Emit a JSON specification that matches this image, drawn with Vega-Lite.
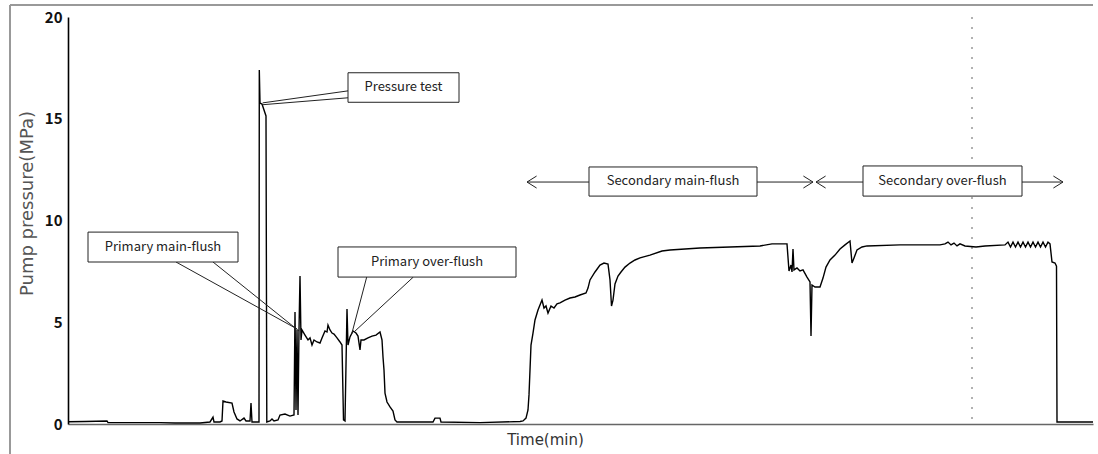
{
  "$schema": "https://vega.github.io/schema/vega-lite/v6.json",
  "width": 1025,
  "height": 407,
  "autosize": {"type": "none"},
  "padding": {"left": 68, "top": 17, "right": 5, "bottom": 30},
  "background": "white",
  "config": {
    "view": {"stroke": null},
    "font": "Noto Sans CJK KR"
  },
  "datasets": {
    "curve": [
      {"t":0,"p":0.11},{"t":17,"p":0.12},{"t":39,"p":0.15},{"t":40,"p":0.07},{"t":92,"p":0.07},{"t":107,"p":0.05},{"t":132,"p":0.05},{"t":142,"p":0.10},{"t":145,"p":0.34},{"t":146,"p":0.10},{"t":152,"p":0.10},{"t":154,"p":0.15},{"t":155,"p":1.13},{"t":158,"p":1.08},{"t":164,"p":1.03},{"t":166,"p":0.59},{"t":169,"p":0.25},{"t":172,"p":0.15},{"t":176,"p":0.29},{"t":178,"p":0.15},{"t":182,"p":0.15},{"t":183,"p":1.03},{"t":184,"p":0.10},{"t":189,"p":0.10},
      {"t":191,"p":0.10},{"t":191.3,"p":17.40},{"t":192,"p":15.77},{"t":194,"p":15.72},{"t":198,"p":15.14},{"t":198.8,"p":0.10},
      {"t":202,"p":0.15},{"t":204,"p":0.25},{"t":206,"p":0.15},{"t":210,"p":0.20},{"t":212,"p":0.44},{"t":217,"p":0.49},{"t":222,"p":0.39},{"t":226,"p":0.44},{"t":227,"p":5.50},{"t":228,"p":0.69},{"t":229,"p":4.62},{"t":230,"p":0.44},{"t":231,"p":4.62},{"t":232,"p":7.27},{"t":233,"p":4.13},{"t":234,"p":4.62},{"t":237,"p":4.37},{"t":240,"p":4.13},{"t":242,"p":4.23},{"t":244,"p":3.88},{"t":246,"p":4.13},{"t":249,"p":4.03},{"t":252,"p":3.98},{"t":254,"p":4.23},{"t":257,"p":4.57},{"t":259,"p":4.52},{"t":260,"p":4.86},{"t":262,"p":4.62},{"t":264,"p":4.47},{"t":266,"p":4.42},{"t":269,"p":4.23},{"t":272,"p":4.03},{"t":274,"p":3.88},{"t":275.5,"p":0.20},{"t":277,"p":0.15},{"t":279,"p":5.65},{"t":280,"p":3.88},{"t":282,"p":4.28},{"t":285,"p":4.57},{"t":288,"p":4.47},{"t":290,"p":4.32},{"t":292,"p":3.64},{"t":293,"p":4.13},{"t":296,"p":4.13},{"t":300,"p":4.23},{"t":304,"p":4.32},{"t":308,"p":4.37},{"t":312,"p":4.52},{"t":314,"p":4.13},{"t":315,"p":3.29},{"t":316,"p":2.65},{"t":317,"p":1.52},{"t":319,"p":1.08},{"t":322,"p":0.84},{"t":325,"p":0.64},{"t":327,"p":0.20},{"t":329,"p":0.10},
      {"t":352,"p":0.10},{"t":365,"p":0.10},{"t":367,"p":0.29},{"t":372,"p":0.29},{"t":373,"p":0.10},{"t":412,"p":0.07},{"t":452,"p":0.12},
      {"t":455,"p":0.15},{"t":458,"p":0.29},{"t":460,"p":0.69},{"t":461,"p":1.43},{"t":462,"p":2.65},{"t":463,"p":3.88},{"t":465,"p":4.47},{"t":467,"p":5.11},{"t":470,"p":5.60},{"t":474,"p":6.09},{"t":476,"p":5.70},{"t":478,"p":5.80},{"t":480,"p":5.45},{"t":483,"p":5.80},{"t":486,"p":5.70},{"t":489,"p":5.90},{"t":492,"p":5.95},{"t":497,"p":6.09},{"t":502,"p":6.19},{"t":507,"p":6.24},{"t":512,"p":6.34},{"t":518,"p":6.44},{"t":520,"p":6.68},{"t":522,"p":7.08},{"t":527,"p":7.47},{"t":532,"p":7.81},{"t":536,"p":7.91},{"t":540,"p":7.86},{"t":542,"p":7.08},{"t":543.5,"p":5.80},{"t":545,"p":6.09},{"t":547,"p":6.88},{"t":550,"p":7.27},{"t":553,"p":7.47},{"t":557,"p":7.71},{"t":562,"p":7.91},{"t":567,"p":8.06},{"t":572,"p":8.16},{"t":582,"p":8.30},{"t":594,"p":8.50},{"t":602,"p":8.55},{"t":617,"p":8.60},{"t":632,"p":8.65},{"t":662,"p":8.70},{"t":692,"p":8.75},{"t":704,"p":8.85},{"t":719,"p":8.85},
      {"t":721,"p":7.52},{"t":723,"p":7.81},{"t":724,"p":7.47},{"t":725,"p":8.60},{"t":726,"p":7.57},{"t":729,"p":7.67},{"t":732,"p":7.52},{"t":735,"p":7.57},{"t":739,"p":7.22},{"t":742,"p":6.98},{"t":743,"p":4.32},{"t":744,"p":6.83},{"t":747,"p":6.73},{"t":752,"p":6.73},{"t":755,"p":7.17},{"t":758,"p":7.71},{"t":762,"p":8.06},{"t":767,"p":8.30},{"t":772,"p":8.60},{"t":777,"p":8.80},{"t":782,"p":8.99},{"t":784,"p":7.91},{"t":786,"p":8.16},{"t":789,"p":8.55},{"t":794,"p":8.70},{"t":799,"p":8.75},{"t":832,"p":8.80},{"t":872,"p":8.80},{"t":877,"p":8.85},{"t":880,"p":8.94},{"t":883,"p":8.80},{"t":886,"p":8.89},{"t":889,"p":8.75},{"t":892,"p":8.85},{"t":897,"p":8.75},{"t":908,"p":8.70},{"t":917,"p":8.75},{"t":937,"p":8.80},
      {"t":940,"p":8.94},{"t":942.5,"p":8.70},{"t":945,"p":8.94},{"t":947.5,"p":8.70},{"t":950,"p":8.94},{"t":952.5,"p":8.70},{"t":955,"p":8.94},{"t":957.5,"p":8.70},{"t":960,"p":8.94},{"t":962.5,"p":8.70},{"t":965,"p":8.94},{"t":967.5,"p":8.70},{"t":970,"p":8.94},{"t":972.5,"p":8.70},{"t":975,"p":8.94},{"t":977.5,"p":8.70},{"t":980,"p":8.94},{"t":982,"p":8.85},{"t":984,"p":7.96},{"t":987,"p":7.91},{"t":988.5,"p":7.76},{"t":989,"p":0.10},{"t":992,"p":0.10},{"t":1025,"p":0.10}
    ],
    "boxes": [
      {"label":"Pressure test","x1":280,"x2":391,"y1":17.26,"y2":15.81,"xc":335.5,"yc":16.54},
      {"label":"Primary main-flush","x1":20,"x2":170,"y1":9.43,"y2":7.96,"xc":95,"yc":8.70},
      {"label":"Primary over-flush","x1":270,"x2":448,"y1":8.70,"y2":7.22,"xc":359,"yc":7.96},
      {"label":"Secondary main-flush","x1":521,"x2":689,"y1":12.63,"y2":11.20,"xc":605,"yc":11.92},
      {"label":"Secondary over-flush","x1":795,"x2":954,"y1":12.68,"y2":11.20,"xc":874.5,"yc":11.92}
    ],
    "leaders": [
      {"x1":280,"y1":16.37,"x2":194.7,"y2":15.78},
      {"x1":280,"y1":16.03,"x2":194.7,"y2":15.69},
      {"x1":108,"y1":7.96,"x2":229,"y2":4.67},
      {"x1":145,"y1":7.96,"x2":231,"y2":4.57},
      {"x1":298.7,"y1":7.22,"x2":283.7,"y2":4.42},
      {"x1":345.3,"y1":7.22,"x2":286,"y2":4.52},
      {"x1":459,"y1":11.89,"x2":521,"y2":11.89},
      {"x1":689,"y1":11.89,"x2":745,"y2":11.89},
      {"x1":748,"y1":11.89,"x2":795,"y2":11.89},
      {"x1":954,"y1":11.89,"x2":995,"y2":11.89}
    ],
    "heads": [
      {"x":459,"y":11.89,"dir":"left"},
      {"x":745,"y":11.89,"dir":"right"},
      {"x":748,"y":11.89,"dir":"left"},
      {"x":995,"y":11.89,"dir":"right"}
    ],
    "frame": [
      {"x1":-58,"x2":-58,"y1":20.59,"y2":-1.6},
      {"x1":-58,"x2":1025,"y1":20.59,"y2":20.59}
    ],
    "marker": [
      {"x1":904,"x2":904,"y1":20,"y2":0}
    ]
  },
  "layer": [
    {
      "data": {"name": "frame"},
      "mark": {"type": "rule", "color": "#999", "strokeWidth": 2, "clip": false},
      "encoding": {
        "x": {"field": "x1", "type": "quantitative", "scale": {"domain": [0, 1025], "nice": false, "zero": false}},
        "x2": {"field": "x2"},
        "y": {"field": "y1", "type": "quantitative", "scale": {"domain": [0, 20], "nice": false}},
        "y2": {"field": "y2"}
      }
    },
    {
      "data": {"name": "marker"},
      "mark": {"type": "rule", "color": "#888", "strokeWidth": 1.3, "strokeDash": [2, 8]},
      "encoding": {
        "x": {"field": "x1", "type": "quantitative"},
        "x2": {"field": "x2"},
        "y": {"field": "y1", "type": "quantitative"},
        "y2": {"field": "y2"}
      }
    },
    {
      "mark": {"type": "rule", "color": "#222", "strokeWidth": 1.5},
      "encoding": {"y": {"datum": 20, "type": "quantitative"}}
    },
    {
      "data": {"name": "curve"},
      "mark": {"type": "line", "color": "#000", "strokeWidth": 1.4, "interpolate": "linear"},
      "encoding": {
        "x": {"field": "t", "type": "quantitative",
          "axis": {"labels": false, "ticks": false, "grid": false, "domainColor": "#666", "domainWidth": 1.5,
            "title": "Time(min)", "titleFont": "DejaVu Sans", "titleFontSize": 15, "titleFontWeight": "normal", "titleColor": "#333",
            "titleX": 477, "titleY": 15, "titleBaseline": "middle", "titleAlign": "center"}},
        "y": {"field": "p", "type": "quantitative",
          "axis": {"values": [0, 5, 10, 15, 20], "ticks": false, "tickSize": 0, "grid": false, "domainColor": "#000", "domainWidth": 1.6,
            "labelFontSize": 15, "labelFontWeight": "bold", "labelColor": "#111", "labelPadding": 6,
            "title": "Pump pressure(MPa)", "titleFont": "DejaVu Sans", "titleFontSize": 18, "titleFontWeight": "normal", "titleColor": "#555",
            "titleX": -41, "titleY": 186, "titleAngle": 270, "titleBaseline": "middle", "titleAlign": "center"}}
      }
    },
    {
      "data": {"name": "leaders"},
      "mark": {"type": "rule", "color": "#222", "strokeWidth": 1},
      "encoding": {
        "x": {"field": "x1", "type": "quantitative"},
        "x2": {"field": "x2"},
        "y": {"field": "y1", "type": "quantitative"},
        "y2": {"field": "y2"}
      }
    },
    {
      "data": {"name": "heads"},
      "mark": {"type": "point", "filled": false, "color": "#222", "strokeWidth": 1, "size": 144, "opacity": 1},
      "encoding": {
        "x": {"field": "x", "type": "quantitative"},
        "y": {"field": "y", "type": "quantitative"},
        "shape": {"field": "dir", "type": "nominal", "legend": null,
          "scale": {"domain": ["left", "right"], "range": ["M1.6,-1L0,0L1.6,1", "M-1.6,-1L0,0L-1.6,1"]}}
      }
    },
    {
      "data": {"name": "boxes"},
      "mark": {"type": "rect", "fill": "white", "stroke": "#222", "strokeWidth": 1},
      "encoding": {
        "x": {"field": "x1", "type": "quantitative"},
        "x2": {"field": "x2"},
        "y": {"field": "y1", "type": "quantitative"},
        "y2": {"field": "y2"}
      }
    },
    {
      "data": {"name": "boxes"},
      "mark": {"type": "text", "font": "Noto Sans CJK KR", "fontSize": 13, "color": "#222", "align": "center", "baseline": "middle"},
      "encoding": {
        "x": {"field": "xc", "type": "quantitative"},
        "y": {"field": "yc", "type": "quantitative"},
        "text": {"field": "label"}
      }
    }
  ]
}
